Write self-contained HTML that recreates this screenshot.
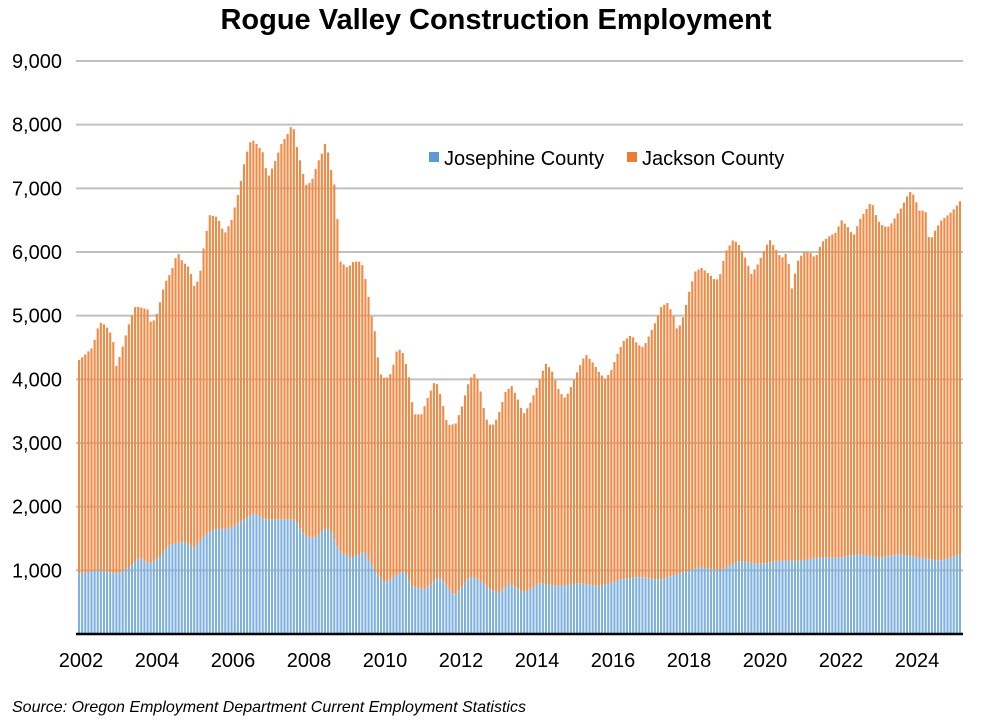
<!DOCTYPE html>
<html><head><meta charset="utf-8"><style>
body{margin:0;background:#fff}
svg{display:block;font-family:"Liberation Sans",Arial,sans-serif}
</style></head><body>
<svg id="s" width="1000" height="724" viewBox="0 0 1000 724" xmlns="http://www.w3.org/2000/svg">
<rect width="1000" height="724" fill="#fff"/>
<text x="496" y="29" text-anchor="middle" font-size="29" font-weight="bold">Rogue Valley Construction Employment</text>
<g id="grid"></g>
<g id="bars"></g>
<line x1="76" y1="634" x2="963" y2="634" stroke="#000" stroke-width="2.5"/>
<g font-size="20" fill="#000" text-anchor="end" id="yl"></g>
<g font-size="20" fill="#000" text-anchor="middle" id="xl"></g>
<rect x="429" y="152" width="10" height="10" fill="#5B9BD5"/>
<text x="444" y="165" font-size="20">Josephine County</text>
<rect x="627" y="152" width="10" height="10" fill="#ED7D31"/>
<text x="642" y="165" font-size="20">Jackson County</text>
<text x="12" y="712" font-size="16" font-style="italic">Source: Oregon Employment Department Current Employment Statistics</text>
</svg>
<script>
var NS="http://www.w3.org/2000/svg";
function el(t,a,p){var e=document.createElementNS(NS,t);for(var k in a)e.setAttribute(k,a[k]);p.appendChild(e);return e;}
function Y(v){return 634-v*573/9000;}
var g=document.getElementById('grid'),yl=document.getElementById('yl'),xl=document.getElementById('xl');
for(var i=1;i<=9;i++){var y=Y(i*1000);el('line',{x1:76,x2:963,y1:y,y2:y,stroke:'#c0c0c0','stroke-width':2},g);
var t=el('text',{x:62,y:y+7},yl);t.textContent=(i*1000).toLocaleString('en-US');}
for(var k=0;k<12;k++){var t=el('text',{x:81+k*76,y:667},xl);t.textContent=2002+2*k;}
var T=[[78,4280],[85,4380],[93,4500],[100,4900],[106,4850],[113,4680],[117,4200],[122,4450],[130,4900],[136,5150],[148,5100],[152,4850],[158,5050],[165,5500],[172,5700],[178,6000],[183,5850],[190,5750],[195,5450],[200,5600],[204,6050],[210,6580],[218,6550],[225,6280],[232,6500],[240,7000],[246,7500],[252,7780],[258,7680],[264,7550],[268,7150],[275,7400],[282,7700],[290,7900],[293,8050],[298,7600],[302,7350],[306,7050],[312,7100],[318,7400],[324,7600],[327,7800],[330,7350],[334,7200],[338,6500],[341,5850],[348,5750],[354,5850],[362,5850],[367,5500],[372,5000],[376,4700],[380,4100],[386,4000],[392,4100],[398,4500],[404,4400],[410,4000],[414,3450],[422,3450],[428,3700],[436,4000],[442,3700],[448,3280],[456,3300],[462,3550],[470,4000],[476,4100],[480,3900],[486,3400],[492,3250],[498,3400],[506,3800],[512,3900],[518,3700],[524,3450],[530,3600],[538,3900],[546,4250],[552,4150],[560,3800],[566,3700],[572,3900],[580,4200],[586,4400],[594,4250],[600,4100],[606,4000],[612,4150],[618,4400],[624,4600],[632,4700],[638,4550],[644,4500],[650,4700],[656,4900],[662,5150],[668,5200],[674,5000],[678,4750],[684,5000],[690,5400],[696,5700],[702,5750],[710,5650],[716,5550],[720,5600],[726,6000],[734,6200],[740,6100],[746,5900],[752,5650],[758,5800],[764,6000],[770,6200],[776,6050],[782,5900],[788,6000],[792,5400],[798,5850],[804,6000],[810,6000],[816,5900],[822,6150],[830,6250],[836,6300],[842,6500],[848,6400],[854,6250],[860,6500],[866,6650],[872,6800],[878,6500],[884,6400],[890,6400],[896,6550],[902,6700],[910,6950],[914,6900],[920,6650],[926,6650],[930,6150],[936,6350],[942,6500],[950,6600],[956,6700],[962,6830]];
var J=[[78,950],[100,1000],[118,950],[130,1050],[140,1200],[150,1100],[160,1200],[170,1400],[185,1450],[195,1350],[205,1550],[215,1650],[230,1650],[245,1800],[255,1900],[265,1800],[280,1800],[295,1800],[305,1550],[315,1500],[325,1650],[330,1650],[340,1300],[350,1200],[360,1250],[365,1300],[375,1000],[385,800],[395,900],[405,1000],[412,750],[425,700],[440,900],[455,600],[470,900],[480,850],[490,700],[500,650],[510,800],[525,650],[540,800],[560,750],[580,800],[600,750],[620,850],[640,900],[660,850],[680,950],[700,1050],[720,1000],[740,1150],[760,1100],[780,1150],[800,1150],[820,1200],[840,1200],[860,1250],[880,1200],[900,1250],[920,1200],[940,1150],[962,1250]];
function interp(P,x){if(x<=P[0][0])return P[0][1];for(var i=1;i<P.length;i++){if(x<=P[i][0]){var a=P[i-1],b=P[i];return a[1]+(b[1]-a[1])*(x-a[0])/(b[0]-a[0]);}}return P[P.length-1][1];}
var b=document.getElementById('bars'),N=284,sp=(962-78)/N;
for(var i=0;i<N;i++){var x=78+i*sp,c=x+sp/2;var tot=interp(T,c),jo=interp(J,c);
el('rect',{x:x,y:Y(tot),width:sp-1,height:Y(jo)-Y(tot),fill:'#F08A45'},b);
el('rect',{x:x,y:Y(jo),width:sp-1,height:634-Y(jo),fill:'#7FB0DE'},b);}
</script>
</body></html>
